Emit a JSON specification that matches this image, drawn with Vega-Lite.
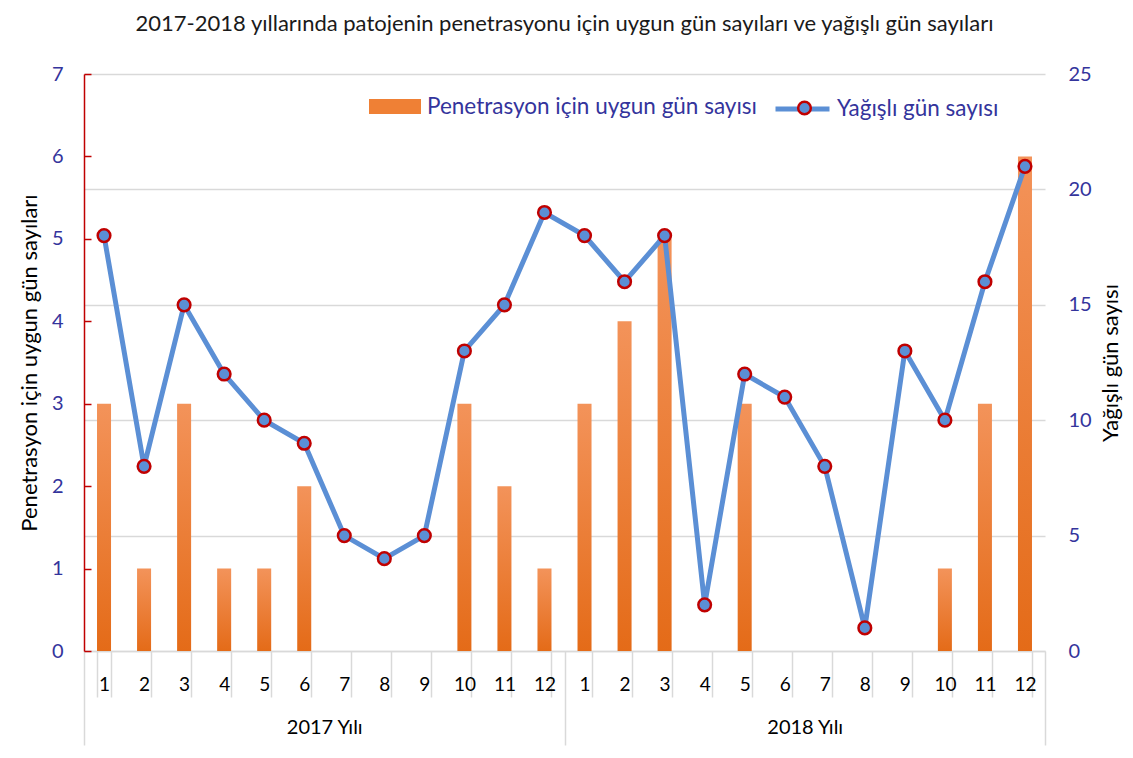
{
  "$schema": "https://vega.github.io/schema/vega-lite/v6.json",
  "width": 961,
  "height": 577,
  "autosize": {"type": "none"},
  "padding": {"left": 84, "top": 74, "right": 88, "bottom": 107},
  "background": "white",
  "config": {"font": "Lato", "view": {"stroke": null}},
  "title": {
    "text": "2017-2018 yıllarında patojenin penetrasyonu için uygun gün sayıları ve yağışlı gün sayıları",
    "anchor": "middle",
    "frame": "group",
    "offset": 28,
    "fontSize": 22,
    "fontWeight": "normal",
    "color": "#1a1a1a",
    "font": "Lato"
  },
  "data": {
    "values": [
      {"i": 1, "yil": "2017 Yılı", "pen": 3, "yag": 18},
      {"i": 2, "yil": "2017 Yılı", "pen": 1, "yag": 8},
      {"i": 3, "yil": "2017 Yılı", "pen": 3, "yag": 15},
      {"i": 4, "yil": "2017 Yılı", "pen": 1, "yag": 12},
      {"i": 5, "yil": "2017 Yılı", "pen": 1, "yag": 10},
      {"i": 6, "yil": "2017 Yılı", "pen": 2, "yag": 9},
      {"i": 7, "yil": "2017 Yılı", "pen": 0, "yag": 5},
      {"i": 8, "yil": "2017 Yılı", "pen": 0, "yag": 4},
      {"i": 9, "yil": "2017 Yılı", "pen": 0, "yag": 5},
      {"i": 10, "yil": "2017 Yılı", "pen": 3, "yag": 13},
      {"i": 11, "yil": "2017 Yılı", "pen": 2, "yag": 15},
      {"i": 12, "yil": "2017 Yılı", "pen": 1, "yag": 19},
      {"i": 13, "yil": "2018 Yılı", "pen": 3, "yag": 18},
      {"i": 14, "yil": "2018 Yılı", "pen": 4, "yag": 16},
      {"i": 15, "yil": "2018 Yılı", "pen": 5, "yag": 18},
      {"i": 16, "yil": "2018 Yılı", "pen": 0, "yag": 2},
      {"i": 17, "yil": "2018 Yılı", "pen": 3, "yag": 12},
      {"i": 18, "yil": "2018 Yılı", "pen": 0, "yag": 11},
      {"i": 19, "yil": "2018 Yılı", "pen": 0, "yag": 8},
      {"i": 20, "yil": "2018 Yılı", "pen": 0, "yag": 1},
      {"i": 21, "yil": "2018 Yılı", "pen": 0, "yag": 13},
      {"i": 22, "yil": "2018 Yılı", "pen": 1, "yag": 10},
      {"i": 23, "yil": "2018 Yılı", "pen": 3, "yag": 16},
      {"i": 24, "yil": "2018 Yılı", "pen": 6, "yag": 21}
    ]
  },
  "layer": [
    {
      "encoding": {
        "x": {
          "field": "i",
          "type": "ordinal",
          "scale": {"type": "band", "paddingInner": 0.65, "paddingOuter": 0.325},
          "axis": {
            "title": null,
            "labelExpr": "datum.label ? '' + ((toNumber(datum.label) - 1) % 12 + 1) : ''",
            "labelAngle": 0,
            "tickBand": "extent",
            "tickSize": 46,
            "tickColor": "#d9d9d9",
            "tickWidth": 1.5,
            "domainColor": "#d9d9d9",
            "domainWidth": 1.5,
            "labelPadding": -22,
            "labelFontSize": 19,
            "labelColor": "#000000",
            "labelFont": "Lato"
          }
        }
      },
      "layer": [
        {
          "mark": {
            "type": "bar",
            "color": {
              "gradient": "linear",
              "x1": 0, "y1": 0, "x2": 0, "y2": 1,
              "stops": [
                {"offset": 0, "color": "#f3935a"},
                {"offset": 1, "color": "#e46b18"}
              ]
            }
          },
          "encoding": {
            "y": {
              "field": "pen",
              "type": "quantitative",
              "scale": {"domain": [0, 7]},
              "axis": {
                "orient": "left",
                "title": "Penetrasyon için uygun gün sayıları",
                "values": [0, 1, 2, 3, 4, 5, 6, 7],
                "grid": false,
                "domainColor": "#c00000",
                "domainWidth": 1.5,
                "tickColor": "#c00000",
                "tickWidth": 1.5,
                "tickSize": -7,
                "labelFontSize": 20,
                "labelColor": "#34349c",
                "labelFont": "Lato",
                "labelPadding": 28,
                "titleFontSize": 22,
                "titleFontWeight": "normal",
                "titleColor": "#000000",
                "titleFont": "Lato",
                "titlePadding": 10
              }
            }
          }
        },
        {
          "mark": {"type": "bar", "opacity": 0},
          "encoding": {
            "y": {"field": "pen", "type": "quantitative", "scale": {"domain": [0, 7]}, "axis": null},
            "color": {
              "datum": "Penetrasyon için uygun gün sayısı",
              "scale": {"range": ["#ef8035"]},
              "legend": {
                "orient": "none",
                "legendX": 285,
                "legendY": 6.5,
                "title": null,
                "padding": 0,
                "symbolType": "M-1,-0.29H1V0.29H-1Z",
                "symbolSize": 2704,
                "symbolStrokeWidth": 0,
                "labelFontSize": 22.5,
                "labelLimit": 500,
                "labelColor": "#34349c",
                "labelFont": "Lato",
                "labelOffset": 6
              }
            }
          }
        },
        {
          "mark": {"type": "line", "strokeWidth": 5},
          "encoding": {
            "y": {
              "field": "yag",
              "type": "quantitative",
              "scale": {"domain": [0, 25]},
              "axis": {
                "orient": "right",
                "title": "Yağışlı gün sayısı",
                "titleAngle": -90,
                "values": [0, 5, 10, 15, 20, 25],
                "grid": true,
                "gridColor": "#d9d9d9",
                "gridWidth": 1.5,
                "domain": false,
                "ticks": false,
                "labelFontSize": 20,
                "labelColor": "#34349c",
                "labelFont": "Lato",
                "labelPadding": 23,
                "titleFontSize": 22,
                "titleFontWeight": "normal",
                "titleColor": "#000000",
                "titleFont": "Lato",
                "titlePadding": 31
              }
            },
            "stroke": {
              "datum": "Yağışlı gün sayısı",
              "scale": {"range": ["#5b8fd5"]},
              "legend": {
                "orient": "none",
                "legendX": 689,
                "legendY": 5.5,
                "title": null,
                "padding": 0,
                "symbolType": "stroke",
                "symbolSize": 2916,
                "symbolStrokeWidth": 5,
                "labelFontSize": 22.5,
                "labelLimit": 500,
                "labelColor": "#34349c",
                "labelFont": "Lato",
                "labelOffset": 5
              }
            }
          }
        },
        {
          "mark": {"type": "point", "filled": true, "size": 160, "stroke": "#c00000", "strokeWidth": 2.5, "opacity": 1},
          "encoding": {
            "y": {"field": "yag", "type": "quantitative", "scale": {"domain": [0, 25]}, "axis": null},
            "fill": {
              "datum": "Yağışlı gün sayısı ",
              "scale": {"range": ["#5b8fd5"]},
              "legend": {
                "orient": "none",
                "legendX": 712.5,
                "legendY": 26,
                "title": null,
                "padding": 0,
                "symbolType": "circle",
                "symbolSize": 160,
                "symbolStrokeColor": "#c00000",
                "symbolStrokeWidth": 2.5,
                "labelExpr": "''",
                "labelFontSize": 10
              }
            }
          }
        }
      ],
      "resolve": {"scale": {"y": "independent"}}
    },
    {
      "mark": {"type": "tick", "opacity": 0},
      "encoding": {
        "x": {
          "field": "yil",
          "type": "nominal",
          "scale": {"type": "band", "paddingInner": 0, "paddingOuter": 0},
          "axis": {
            "orient": "bottom",
            "title": null,
            "labelAngle": 0,
            "tickBand": "extent",
            "tickSize": 94,
            "tickColor": "#d9d9d9",
            "tickWidth": 1.5,
            "domain": false,
            "labelPadding": -28,
            "labelFontSize": 20,
            "labelColor": "#000000",
            "labelFont": "Lato"
          }
        }
      }
    }
  ],
  "resolve": {"scale": {"x": "independent"}}
}
